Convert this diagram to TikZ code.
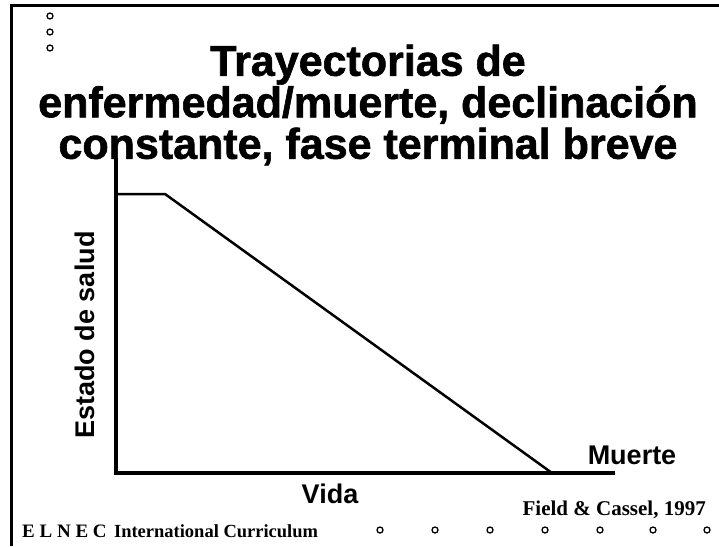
\documentclass[tikz,border=0pt]{standalone}
\usepackage{fontspec}
\setmainfont{Liberation Serif}
\newfontfamily\headfont{Liberation Sans}[FakeBold=1.4]
\newfontfamily\labelfont{Liberation Sans}
\begin{document}
\begin{tikzpicture}[x=1pt,y=-1pt]
\tikzstyle{headline} = [font=\headfont\bfseries\fontsize{43}{41.5}\selectfont, align=center, inner sep=0pt]
\tikzstyle{axislabel} = [font=\labelfont\bfseries\fontsize{27}{30}\selectfont, inner sep=0pt]
\tikzstyle{footer} = [font=\bfseries\fontsize{19}{20}\selectfont, inner sep=0pt]
\tikzstyle{bullet} = [circle, draw=black, line width=1.3pt, minimum size=6pt, inner sep=0pt, fill=white]
\useasboundingbox (0,0) rectangle (719,546);
% frame
\draw[line width=3pt] (11,546) -- (11,5) -- (719,5);
% bullets top left
\foreach \y [count=\i] in {16,32,48}
  \node (top\i)[bullet] at (50,\y) {};
% title
\node (title)[headline] at (368,105) {Trayectorias de\\enfermedad/muerte, declinación\\constante, fase terminal breve};
% axes
\coordinate (origin) at (116,473);
\coordinate (ytop) at (116,158);
\coordinate (xend) at (615,473);
\draw[line width=4pt] (ytop) -- (116,475);
\draw[line width=4pt] (114,473) -- (xend);
% health curve
\coordinate (pstart) at (116,194);
\coordinate (pend) at (165,194);
\coordinate (death) at (552,473);
\draw[line width=2.5pt] (pstart) -- (pend) -- (death);
% labels
\node (salud)[axislabel, rotate=90] at (85,335) {Estado de salud};
\node (vida)[axislabel] at (330,494) {Vida};
\node (muerte)[axislabel] at (632,455) {Muerte};
% footer
\node (elnec)[footer, anchor=west] at (22,531) {E L N E C};
\node (curric)[footer, anchor=west, font=\bfseries\fontsize{18.5}{20}\selectfont] at ([xshift=7pt]elnec.east) {International Curriculum};
\node (cite)[footer, anchor=east, font=\bfseries\fontsize{21}{22}\selectfont] at (706,510) {Field \& Cassel, 1997};
\foreach \x [count=\i] in {380,435,490,545,600,653,707}
  \node (bot\i)[bullet] at (\x,530) {};
\end{tikzpicture}
\end{document}
